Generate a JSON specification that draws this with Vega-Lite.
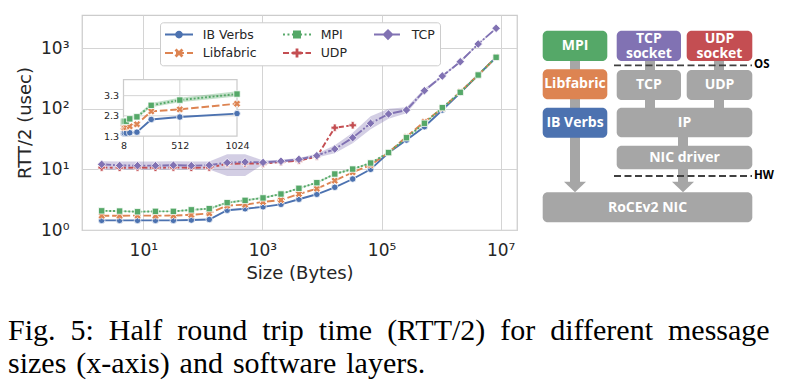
{
  "$schema": "https://vega.github.io/schema/vega-lite/v6.json",
  "width": 435,
  "height": 215,
  "autosize": {"type": "none"},
  "padding": {"left": 82, "top": 15, "right": 289, "bottom": 159},
  "background": "white",
  "config": {
    "font": "DejaVu Sans",
    "view": {"stroke": "#cccccc", "strokeWidth": 1.25},
    "axis": {"domain": false, "ticks": false, "gridColor": "#d4d4d4", "gridWidth": 1, "labelColor": "#262626", "titleColor": "#262626", "titleFontWeight": "normal", "labelFont": "DejaVu Sans", "titleFont": "DejaVu Sans", "labelFlush": false, "labelOverlap": false}
  },
  "title": {
    "text": ["Fig.\u20025:\u2002Half\u2002round\u2002trip\u2002time\u2002(RTT/2)\u2002for\u2002different\u2002message", "sizes\u2004(x-axis)\u2004and\u2004software\u2004layers."],
    "orient": "bottom", "anchor": "start", "frame": "group", "dx": -74, "offset": 34,
    "font": "Liberation Serif", "fontSize": 30, "fontWeight": "normal", "color": "#000000", "lineHeight": 33.3
  },
  "datasets": {
    "rtt": [
      {"series": "IB Verbs", "size": 2, "rtt": 1.44}, {"series": "IB Verbs", "size": 4, "rtt": 1.44}, {"series": "IB Verbs", "size": 8, "rtt": 1.44}, {"series": "IB Verbs", "size": 16, "rtt": 1.44}, {"series": "IB Verbs", "size": 32, "rtt": 1.44}, {"series": "IB Verbs", "size": 64, "rtt": 1.46}, {"series": "IB Verbs", "size": 128, "rtt": 1.49}, {"series": "IB Verbs", "size": 256, "rtt": 2.12}, {"series": "IB Verbs", "size": 512, "rtt": 2.24}, {"series": "IB Verbs", "size": 1024, "rtt": 2.41}, {"series": "IB Verbs", "size": 2048, "rtt": 2.65}, {"series": "IB Verbs", "size": 4096, "rtt": 3.21}, {"series": "IB Verbs", "size": 8192, "rtt": 3.88}, {"series": "IB Verbs", "size": 16384, "rtt": 5.06}, {"series": "IB Verbs", "size": 32768, "rtt": 6.93}, {"series": "IB Verbs", "size": 65536, "rtt": 10.0}, {"series": "IB Verbs", "size": 131072, "rtt": 18.8}, {"series": "IB Verbs", "size": 262144, "rtt": 30.4}, {"series": "IB Verbs", "size": 524288, "rtt": 50.4}, {"series": "IB Verbs", "size": 1048576, "rtt": 95}, {"series": "IB Verbs", "size": 2097152, "rtt": 183}, {"series": "IB Verbs", "size": 4194304, "rtt": 359}, {"series": "IB Verbs", "size": 8388608, "rtt": 703},
      {"series": "Libfabric", "size": 2, "rtt": 1.72}, {"series": "Libfabric", "size": 4, "rtt": 1.72}, {"series": "Libfabric", "size": 8, "rtt": 1.73}, {"series": "Libfabric", "size": 16, "rtt": 1.72}, {"series": "Libfabric", "size": 32, "rtt": 1.73}, {"series": "Libfabric", "size": 64, "rtt": 1.78}, {"series": "Libfabric", "size": 128, "rtt": 1.88}, {"series": "Libfabric", "size": 256, "rtt": 2.52}, {"series": "Libfabric", "size": 512, "rtt": 2.62}, {"series": "Libfabric", "size": 1024, "rtt": 2.9}, {"series": "Libfabric", "size": 2048, "rtt": 3.12}, {"series": "Libfabric", "size": 4096, "rtt": 3.92}, {"series": "Libfabric", "size": 8192, "rtt": 4.8}, {"series": "Libfabric", "size": 16384, "rtt": 6.5}, {"series": "Libfabric", "size": 32768, "rtt": 8.93}, {"series": "Libfabric", "size": 65536, "rtt": 11.8}, {"series": "Libfabric", "size": 131072, "rtt": 18.9}, {"series": "Libfabric", "size": 262144, "rtt": 34.5}, {"series": "Libfabric", "size": 524288, "rtt": 61}, {"series": "Libfabric", "size": 1048576, "rtt": 101}, {"series": "Libfabric", "size": 2097152, "rtt": 190}, {"series": "Libfabric", "size": 4194304, "rtt": 359}, {"series": "Libfabric", "size": 8388608, "rtt": 703},
      {"series": "MPI", "size": 2, "rtt": 2.07, "lo": 2.02, "hi": 2.12}, {"series": "MPI", "size": 4, "rtt": 2.05, "lo": 2.0, "hi": 2.1}, {"series": "MPI", "size": 8, "rtt": 2.0, "lo": 1.95, "hi": 2.05}, {"series": "MPI", "size": 16, "rtt": 2.03, "lo": 1.98, "hi": 2.08}, {"series": "MPI", "size": 32, "rtt": 2.03, "lo": 1.98, "hi": 2.08}, {"series": "MPI", "size": 64, "rtt": 2.15, "lo": 2.08, "hi": 2.22}, {"series": "MPI", "size": 128, "rtt": 2.25, "lo": 2.17, "hi": 2.33}, {"series": "MPI", "size": 256, "rtt": 2.82, "lo": 2.72, "hi": 2.94}, {"series": "MPI", "size": 512, "rtt": 3.08, "lo": 2.97, "hi": 3.2}, {"series": "MPI", "size": 1024, "rtt": 3.38, "lo": 3.26, "hi": 3.52}, {"series": "MPI", "size": 2048, "rtt": 3.92, "lo": 3.8, "hi": 4.05}, {"series": "MPI", "size": 4096, "rtt": 4.87, "lo": 4.72, "hi": 5.02}, {"series": "MPI", "size": 8192, "rtt": 6.02, "lo": 5.85, "hi": 6.2}, {"series": "MPI", "size": 16384, "rtt": 8.38, "lo": 8.1, "hi": 8.7}, {"series": "MPI", "size": 32768, "rtt": 10.1, "lo": 9.8, "hi": 10.4}, {"series": "MPI", "size": 65536, "rtt": 12.7, "lo": 12.3, "hi": 13.1}, {"series": "MPI", "size": 131072, "rtt": 18.9, "lo": 18.4, "hi": 19.4}, {"series": "MPI", "size": 262144, "rtt": 33.2, "lo": 32.4, "hi": 34}, {"series": "MPI", "size": 524288, "rtt": 57.4, "lo": 56, "hi": 58.8}, {"series": "MPI", "size": 1048576, "rtt": 104, "lo": 102, "hi": 106}, {"series": "MPI", "size": 2097152, "rtt": 186, "lo": 183, "hi": 189}, {"series": "MPI", "size": 4194304, "rtt": 359, "lo": 354, "hi": 364}, {"series": "MPI", "size": 8388608, "rtt": 703, "lo": 696, "hi": 710},
      {"series": "UDP", "size": 2, "rtt": 10.7}, {"series": "UDP", "size": 4, "rtt": 10.6}, {"series": "UDP", "size": 8, "rtt": 10.7}, {"series": "UDP", "size": 16, "rtt": 10.6}, {"series": "UDP", "size": 32, "rtt": 10.7}, {"series": "UDP", "size": 64, "rtt": 10.6}, {"series": "UDP", "size": 128, "rtt": 10.7}, {"series": "UDP", "size": 256, "rtt": 12.3}, {"series": "UDP", "size": 512, "rtt": 12.5}, {"series": "UDP", "size": 1024, "rtt": 12.4}, {"series": "UDP", "size": 2048, "rtt": 13.2}, {"series": "UDP", "size": 4096, "rtt": 13.9}, {"series": "UDP", "size": 8192, "rtt": 16.2}, {"series": "UDP", "size": 16384, "rtt": 48.6}, {"series": "UDP", "size": 32768, "rtt": 53.2},
      {"series": "TCP", "size": 2, "rtt": 12.1, "lo": 9.8, "hi": 13.6}, {"series": "TCP", "size": 4, "rtt": 11.6, "lo": 9.8, "hi": 13.5}, {"series": "TCP", "size": 8, "rtt": 11.5, "lo": 9.8, "hi": 13.5}, {"series": "TCP", "size": 16, "rtt": 11.5, "lo": 9.8, "hi": 13.5}, {"series": "TCP", "size": 32, "rtt": 11.7, "lo": 9.8, "hi": 13.6}, {"series": "TCP", "size": 64, "rtt": 11.5, "lo": 9.8, "hi": 13.5}, {"series": "TCP", "size": 128, "rtt": 11.7, "lo": 9.9, "hi": 13.5}, {"series": "TCP", "size": 256, "rtt": 12.9, "lo": 7.8, "hi": 17.8}, {"series": "TCP", "size": 512, "rtt": 13.2, "lo": 7.8, "hi": 17.8}, {"series": "TCP", "size": 1024, "rtt": 13.0, "lo": 12.0, "hi": 14.0}, {"series": "TCP", "size": 2048, "rtt": 13.6, "lo": 12.8, "hi": 14.4}, {"series": "TCP", "size": 4096, "rtt": 14.6, "lo": 13.8, "hi": 15.4}, {"series": "TCP", "size": 8192, "rtt": 16.8, "lo": 15.6, "hi": 18.0}, {"series": "TCP", "size": 16384, "rtt": 21.6, "lo": 18.5, "hi": 25}, {"series": "TCP", "size": 32768, "rtt": 33.2, "lo": 27, "hi": 40}, {"series": "TCP", "size": 65536, "rtt": 57.4, "lo": 46, "hi": 75}, {"series": "TCP", "size": 131072, "rtt": 81.7, "lo": 68, "hi": 100}, {"series": "TCP", "size": 262144, "rtt": 95, "lo": 84, "hi": 106}, {"series": "TCP", "size": 524288, "rtt": 198, "lo": 186, "hi": 212}, {"series": "TCP", "size": 1048576, "rtt": 345, "lo": 330, "hi": 360}, {"series": "TCP", "size": 2097152, "rtt": 594, "lo": 570, "hi": 620}, {"series": "TCP", "size": 4194304, "rtt": 1164, "lo": 1120, "hi": 1210}, {"series": "TCP", "size": 8388608, "rtt": 2110, "lo": 2040, "hi": 2180}
    ],
    "boxes": [
      {"label": "MPI", "stack": "MPI", "u0": 12.7, "u1": 77.3, "v0": 10.7, "v1": 41, "uc": 45, "vc": 25.9},
      {"label": "Libfabric", "stack": "Libfabric", "u0": 12.7, "u1": 77.3, "v0": 49.3, "v1": 79.3, "uc": 45, "vc": 64.3},
      {"label": "IB Verbs", "stack": "IB Verbs", "u0": 12.7, "u1": 77.3, "v0": 87.7, "v1": 117.7, "uc": 45, "vc": 102.7},
      {"label": "TCP\nsocket", "stack": "TCP", "u0": 86.7, "u1": 151, "v0": 10.7, "v1": 41, "uc": 118.9, "vc": 19.1},
      {"label": "UDP\nsocket", "stack": "UDP", "u0": 156.7, "u1": 222.3, "v0": 10.7, "v1": 41, "uc": 189.5, "vc": 19.1},
      {"label": "TCP", "stack": "OS", "u0": 86.7, "u1": 151, "v0": 50, "v1": 80, "uc": 118.9, "vc": 65},
      {"label": "UDP", "stack": "OS", "u0": 156.7, "u1": 222.3, "v0": 50, "v1": 80, "uc": 189.5, "vc": 65},
      {"label": "IP", "stack": "OS", "u0": 86.7, "u1": 222.3, "v0": 87.7, "v1": 117.3, "uc": 154.5, "vc": 102.5},
      {"label": "NIC driver", "stack": "OS", "u0": 86.7, "u1": 222.3, "v0": 125.7, "v1": 149.3, "uc": 154.5, "vc": 137.8},
      {"label": "RoCEv2 NIC", "stack": "OS", "u0": 12.7, "u1": 222.3, "v0": 172.3, "v1": 202.3, "uc": 117.5, "vc": 187.5}
    ],
    "links": [
      {"u0": 40, "u1": 50, "v0": 41, "v1": 162},
      {"u0": 115, "u1": 125, "v0": 41, "v1": 88},
      {"u0": 184, "u1": 194, "v0": 41, "v1": 88},
      {"u0": 148, "u1": 158, "v0": 117, "v1": 162}
    ],
    "heads": [{"u": 45, "v": 167}, {"u": 153, "v": 167}],
    "dividers": [{"name": "OS", "v": 45.3}, {"name": "HW", "v": 156}]
  },
  "layer": [
    {
      "data": {"name": "rtt"},
      "encoding": {
        "x": {"field": "size", "type": "quantitative", "scale": {"type": "log", "domain": [0.935, 18800000], "nice": false},
              "axis": {"orient": "bottom", "values": [10, 1000, 100000, 10000000], "labelExpr": "'10' + ['⁰','¹','²','³','⁴','⁵','⁶','⁷'][round(log(datum.value)/LN10)]", "labelFontSize": 17, "labelPadding": 12, "title": "Size (Bytes)", "titleFontSize": 18, "titlePadding": 6, "grid": true}},
        "y": {"field": "rtt", "type": "quantitative", "scale": {"type": "log", "domain": [1, 3500], "nice": false},
              "axis": {"orient": "left", "values": [1, 10, 100, 1000], "labelExpr": "'10' + ['⁰','¹','²','³','⁴','⁵','⁶','⁷'][round(log(datum.value)/LN10)]", "labelFontSize": 17, "labelPadding": 13, "title": "RTT/2 (usec)", "titleFontSize": 18, "titlePadding": 6, "grid": true}},
        "color": {"field": "series", "type": "nominal", "scale": {"domain": ["IB Verbs", "Libfabric", "MPI", "UDP", "TCP"], "range": ["#4C72B0", "#DD8452", "#55A868", "#C44E52", "#8172B3"]}, "legend": null}
      },
      "layer": [
        {"transform": [{"filter": "false"}], "mark": {"type": "point", "filled": true, "size": 196, "opacity": 1, "strokeWidth": 0},
         "encoding": {
           "color": {"field": "series", "type": "nominal", "scale": {"domain": ["IB Verbs", "Libfabric", "MPI", "UDP", "TCP"], "range": ["#4C72B0", "#DD8452", "#55A868", "#C44E52", "#8172B3"]},
                     "legend": {"title": null, "orient": "none", "legendX": 78, "legendY": 7.3, "columns": 3, "symbolSize": 196, "symbolStrokeWidth": 0, "symbolOpacity": 1, "labelFont": "DejaVu Sans", "labelFontSize": 12.5, "labelColor": "#262626", "labelOffset": 23.7, "rowPadding": 4.7, "columnPadding": 26, "padding": 5, "strokeColor": "#cccccc", "fillColor": "#ffffff", "cornerRadius": 3}},
           "shape": {"field": "series", "type": "nominal", "scale": {"domain": ["IB Verbs", "Libfabric", "MPI", "UDP", "TCP"], "range": [
               "M-1,-0.14H3V0.14H-1Z M1.55,0A0.55,0.55,0,1,1,0.45,0A0.55,0.55,0,1,1,1.55,0Z",
               "M-1,-0.14H0.14V0.14H-1Z M0.57,-0.14H1.71V0.14H0.57Z M2.14,-0.14H3V0.14H2.14Z M1.636,-0.354L1.283,0L1.636,0.354L1.354,0.636L1,0.283L0.646,0.636L0.364,0.354L0.717,0L0.364,-0.354L0.646,-0.636L1,-0.283L1.354,-0.636Z",
               "M-1,-0.14H-0.72V0.14H-1Z M-0.36,-0.14H-0.08V0.14H-0.36Z M0.28,-0.14H0.56V0.14H0.28Z M0.43,-0.57H1.57V0.57H0.43Z M1.44,-0.14H1.72V0.14H1.44Z M2.08,-0.14H2.36V0.14H2.08Z M2.72,-0.14H3V0.14H2.72Z",
               "M-1,-0.14H-0.14V0.14H-1Z M0.21,-0.14H0.64V0.14H0.21Z M1,-0.14H1.86V0.14H1Z M2.21,-0.14H3V0.14H2.21Z M1.2,-0.65L1.2,-0.2L1.65,-0.2L1.65,0.2L1.2,0.2L1.2,0.65L0.8,0.65L0.8,0.2L0.35,0.2L0.35,-0.2L0.8,-0.2L0.8,-0.65Z",
               "M-1,-0.14H0.43V0.14H-1Z M0.71,-0.14H1V0.14H0.71Z M1.29,-0.14H2.71V0.14H1.29Z M1,-0.8L1.8,0L1,0.8L0.2,0Z"
             ]},
                     "legend": {"title": null, "orient": "none", "legendX": 78, "legendY": 7.3, "columns": 3, "symbolSize": 196, "symbolStrokeWidth": 0, "symbolOpacity": 1, "labelFont": "DejaVu Sans", "labelFontSize": 12.5, "labelColor": "#262626", "labelOffset": 23.7, "rowPadding": 4.7, "columnPadding": 26, "padding": 5, "strokeColor": "#cccccc", "fillColor": "#ffffff", "cornerRadius": 3}}
         }},
        {"transform": [{"filter": "datum.series === 'TCP' || datum.series === 'MPI'"}], "mark": {"type": "area", "opacity": 0.35},
         "encoding": {"y": {"field": "lo", "type": "quantitative", "axis": {"orient": "left", "values": [1, 10, 100, 1000], "labelExpr": "'10' + ['⁰','¹','²','³','⁴','⁵','⁶','⁷'][round(log(datum.value)/LN10)]", "labelFontSize": 17, "labelPadding": 13, "title": "RTT/2 (usec)", "titleFontSize": 18, "titlePadding": 6, "grid": true}}, "y2": {"field": "hi"}}},
        {"transform": [{"filter": "datum.series === 'IB Verbs'"}], "mark": {"type": "line", "strokeWidth": 1.9}},
        {"transform": [{"filter": "datum.series === 'IB Verbs'"}], "mark": {"type": "point", "shape": "circle", "filled": true, "size": 42, "opacity": 1, "stroke": "white", "strokeWidth": 0.75}},
        {"transform": [{"filter": "datum.series === 'Libfabric'"}], "mark": {"type": "line", "strokeWidth": 1.9, "strokeDash": [7.6, 2.85]}},
        {"transform": [{"filter": "datum.series === 'Libfabric'"}], "mark": {"type": "point", "shape": "cross", "angle": 45, "filled": true, "size": 55, "opacity": 1, "stroke": "white", "strokeWidth": 0.75}},
        {"transform": [{"filter": "datum.series === 'MPI'"}], "mark": {"type": "line", "strokeWidth": 1.9, "strokeDash": [1.9, 1.9]}},
        {"transform": [{"filter": "datum.series === 'MPI'"}], "mark": {"type": "point", "shape": "square", "filled": true, "size": 40, "opacity": 1, "stroke": "white", "strokeWidth": 0.75}},
        {"transform": [{"filter": "datum.series === 'UDP'"}], "mark": {"type": "line", "strokeWidth": 1.9, "strokeDash": [5.7, 2.4, 2.85, 2.4]}},
        {"transform": [{"filter": "datum.series === 'UDP'"}], "mark": {"type": "point", "shape": "cross", "filled": true, "size": 55, "opacity": 1, "stroke": "white", "strokeWidth": 0.75}},
        {"transform": [{"filter": "datum.series === 'TCP'"}], "mark": {"type": "line", "strokeWidth": 1.9, "strokeDash": [9.5, 1.9, 1.9, 1.9]}},
        {"transform": [{"filter": "datum.series === 'TCP'"}], "mark": {"type": "point", "shape": "diamond", "filled": true, "size": 72, "opacity": 1, "stroke": "white", "strokeWidth": 0.75}}
      ]
    },
    {
      "data": {"name": "rtt"},
      "encoding": {
        "x": {"field": "size", "type": "quantitative", "scale": {"type": "linear", "domain": [8, 1024], "range": [41.5, 155], "nice": false, "zero": false},
              "axis": {"orient": "bottom", "offset": -94, "values": [8, 512, 1024], "format": "d", "grid": false, "labelFontSize": 9.5, "labelPadding": 4, "title": null}},
        "y": {"field": "rtt", "type": "quantitative", "scale": {"type": "linear", "domain": [1.3, 4.09], "range": [121, 64.7], "nice": false, "zero": false},
              "axis": {"orient": "left", "offset": -41.5, "values": [1.3, 2.3, 3.3], "format": ".1f", "grid": false, "labelFontSize": 9.5, "labelPadding": 5, "title": null}},
        "color": {"field": "series", "type": "nominal", "scale": {"domain": ["IB Verbs", "Libfabric", "MPI", "UDP", "TCP"], "range": ["#4C72B0", "#DD8452", "#55A868", "#C44E52", "#8172B3"]}, "legend": null}
      },
      "layer": [
        {"transform": [{"filter": "datum.series === 'IB Verbs' && datum.size === 8"}], "mark": {"type": "rect", "stroke": "#cccccc", "strokeWidth": 1.25},
         "encoding": {"x": {"datum": 8, "type": "quantitative", "axis": {"orient": "bottom", "offset": -94, "values": [8, 512, 1024], "format": "d", "grid": false, "labelFontSize": 9.5, "labelPadding": 4, "title": null}}, "x2": {"datum": 1024},
                      "y": {"datum": 1.3, "type": "quantitative", "axis": {"orient": "left", "offset": -41.5, "values": [1.3, 2.3, 3.3], "format": ".1f", "grid": false, "labelFontSize": 9.5, "labelPadding": 5, "title": null}}, "y2": {"datum": 4.09}, "color": {"value": "#ffffff"}}},
        {"transform": [{"filter": "datum.series === 'IB Verbs' && datum.size === 8"}], "mark": {"type": "rule", "strokeWidth": 1},
         "encoding": {"x": {"datum": 512, "type": "quantitative", "axis": {"orient": "bottom", "offset": -94, "values": [8, 512, 1024], "format": "d", "grid": false, "labelFontSize": 9.5, "labelPadding": 4, "title": null}},
                      "y": {"datum": 1.3, "type": "quantitative", "axis": {"orient": "left", "offset": -41.5, "values": [1.3, 2.3, 3.3], "format": ".1f", "grid": false, "labelFontSize": 9.5, "labelPadding": 5, "title": null}}, "y2": {"datum": 4.09}, "color": {"value": "#d4d4d4"}}},
        {"transform": [{"filter": "datum.series === 'IB Verbs' && datum.size === 8"}], "mark": {"type": "rule", "strokeWidth": 1},
         "encoding": {"y": {"datum": 2.3, "type": "quantitative", "axis": {"orient": "left", "offset": -41.5, "values": [1.3, 2.3, 3.3], "format": ".1f", "grid": false, "labelFontSize": 9.5, "labelPadding": 5, "title": null}},
                      "x": {"datum": 8, "type": "quantitative", "axis": {"orient": "bottom", "offset": -94, "values": [8, 512, 1024], "format": "d", "grid": false, "labelFontSize": 9.5, "labelPadding": 4, "title": null}}, "x2": {"datum": 1024}, "color": {"value": "#d4d4d4"}}},
        {"transform": [{"filter": "datum.series === 'IB Verbs' && datum.size === 8"}], "mark": {"type": "rule", "strokeWidth": 1},
         "encoding": {"y": {"datum": 3.3, "type": "quantitative", "axis": {"orient": "left", "offset": -41.5, "values": [1.3, 2.3, 3.3], "format": ".1f", "grid": false, "labelFontSize": 9.5, "labelPadding": 5, "title": null}},
                      "x": {"datum": 8, "type": "quantitative", "axis": {"orient": "bottom", "offset": -94, "values": [8, 512, 1024], "format": "d", "grid": false, "labelFontSize": 9.5, "labelPadding": 4, "title": null}}, "x2": {"datum": 1024}, "color": {"value": "#d4d4d4"}}},
        {"transform": [{"filter": "datum.series === 'MPI' && datum.size >= 8 && datum.size <= 1024"}], "mark": {"type": "area", "opacity": 0.35},
         "encoding": {"y": {"field": "lo", "type": "quantitative", "axis": {"orient": "left", "offset": -41.5, "values": [1.3, 2.3, 3.3], "format": ".1f", "grid": false, "labelFontSize": 9.5, "labelPadding": 5, "title": null}}, "y2": {"field": "hi"}}},
        {"transform": [{"filter": "datum.series === 'IB Verbs' && datum.size >= 8 && datum.size <= 1024"}], "mark": {"type": "line", "strokeWidth": 1.9}},
        {"transform": [{"filter": "datum.series === 'IB Verbs' && datum.size >= 8 && datum.size <= 1024"}], "mark": {"type": "point", "shape": "circle", "filled": true, "size": 42, "opacity": 1, "stroke": "white", "strokeWidth": 0.75}},
        {"transform": [{"filter": "datum.series === 'Libfabric' && datum.size >= 8 && datum.size <= 1024"}], "mark": {"type": "line", "strokeWidth": 1.9, "strokeDash": [7.6, 2.85]}},
        {"transform": [{"filter": "datum.series === 'Libfabric' && datum.size >= 8 && datum.size <= 1024"}], "mark": {"type": "point", "shape": "cross", "angle": 45, "filled": true, "size": 55, "opacity": 1, "stroke": "white", "strokeWidth": 0.75}},
        {"transform": [{"filter": "datum.series === 'MPI' && datum.size >= 8 && datum.size <= 1024"}], "mark": {"type": "line", "strokeWidth": 1.9, "strokeDash": [1.9, 1.9]}},
        {"transform": [{"filter": "datum.series === 'MPI' && datum.size >= 8 && datum.size <= 1024"}], "mark": {"type": "point", "shape": "square", "filled": true, "size": 40, "opacity": 1, "stroke": "white", "strokeWidth": 0.75}}
      ]
    },
    {
      "layer": [
        {"data": {"name": "links"}, "mark": {"type": "rect", "color": "#a6a6a6"},
         "encoding": {"x": {"field": "u0", "type": "quantitative", "scale": {"domain": [0, 250], "range": [448, 698], "nice": false, "zero": false}, "axis": null}, "x2": {"field": "u1"},
                      "y": {"field": "v0", "type": "quantitative", "scale": {"domain": [0, 210], "range": [5, 215], "nice": false, "zero": false}, "axis": null}, "y2": {"field": "v1"}}},
        {"data": {"name": "heads"}, "mark": {"type": "point", "shape": "M-1,-0.48L1,-0.48L0,0.48Z", "filled": true, "size": 484, "opacity": 1, "color": "#a6a6a6", "strokeWidth": 0},
         "encoding": {"x": {"field": "u", "type": "quantitative", "scale": {"domain": [0, 250], "range": [448, 698], "nice": false, "zero": false}, "axis": null},
                      "y": {"field": "v", "type": "quantitative", "scale": {"domain": [0, 210], "range": [5, 215], "nice": false, "zero": false}, "axis": null}}},
        {"data": {"name": "boxes"}, "mark": {"type": "rect", "cornerRadius": 5},
         "encoding": {"x": {"field": "u0", "type": "quantitative", "scale": {"domain": [0, 250], "range": [448, 698], "nice": false, "zero": false}, "axis": null}, "x2": {"field": "u1"},
                      "y": {"field": "v0", "type": "quantitative", "scale": {"domain": [0, 210], "range": [5, 215], "nice": false, "zero": false}, "axis": null}, "y2": {"field": "v1"},
                      "fill": {"field": "stack", "type": "nominal", "scale": {"domain": ["MPI", "Libfabric", "IB Verbs", "TCP", "UDP", "OS"], "range": ["#55A868", "#DD8452", "#4C72B0", "#8172B3", "#C44E52", "#A6A6A6"]}, "legend": null}}},
        {"data": {"name": "boxes"}, "mark": {"type": "text", "font": "Open Sans", "fontWeight": "bold", "fontSize": 14, "color": "#ffffff", "lineBreak": "\n", "lineHeight": 14.4, "align": "center", "baseline": "middle"},
         "encoding": {"x": {"field": "uc", "type": "quantitative", "scale": {"domain": [0, 250], "range": [448, 698], "nice": false, "zero": false}, "axis": null},
                      "y": {"field": "vc", "type": "quantitative", "scale": {"domain": [0, 210], "range": [5, 215], "nice": false, "zero": false}, "axis": null},
                      "text": {"field": "label", "type": "nominal"}}},
        {"data": {"name": "dividers"}, "mark": {"type": "rule", "color": "#404040", "strokeWidth": 1.8, "strokeDash": [7, 3.5]},
         "encoding": {"x": {"datum": 84, "type": "quantitative", "scale": {"domain": [0, 250], "range": [448, 698], "nice": false, "zero": false}, "axis": null}, "x2": {"datum": 222},
                      "y": {"field": "v", "type": "quantitative", "scale": {"domain": [0, 210], "range": [5, 215], "nice": false, "zero": false}, "axis": null}}},
        {"data": {"name": "dividers"}, "mark": {"type": "text", "font": "Open Sans", "fontWeight": "bold", "fontSize": 11.5, "color": "#000000", "align": "left", "baseline": "middle", "dx": 2},
         "encoding": {"x": {"datum": 222, "type": "quantitative", "scale": {"domain": [0, 250], "range": [448, 698], "nice": false, "zero": false}, "axis": null},
                      "y": {"field": "v", "type": "quantitative", "scale": {"domain": [0, 210], "range": [5, 215], "nice": false, "zero": false}, "axis": null},
                      "text": {"field": "name", "type": "nominal"}}}
      ]
    }
  ],
  "resolve": {"scale": {"x": "independent", "y": "independent"}, "axis": {"x": "independent", "y": "independent"}}
}
